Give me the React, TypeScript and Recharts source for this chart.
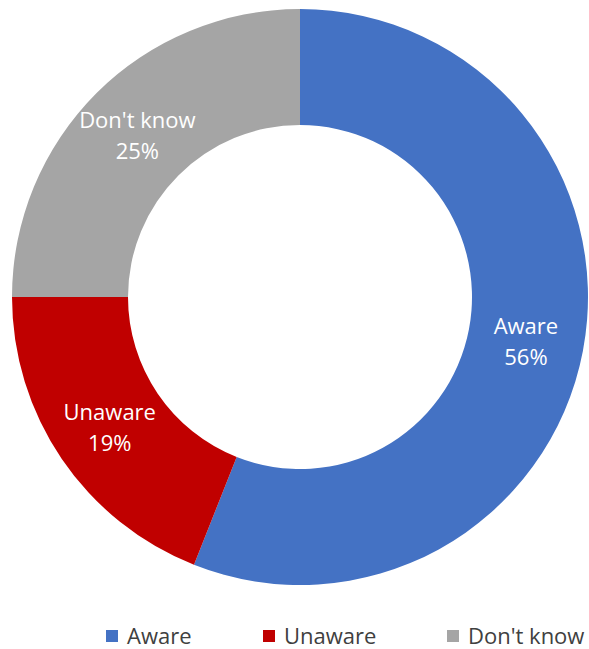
import React from "react";
import { PieChart, Pie, Cell, Legend } from "recharts";

const categories = ["Aware", "Unaware", "Don't know"];
const values = [56, 19, 25];
const colors = ["#4472C4", "#C00000", "#A5A5A5"];

const data = categories.map((name, i) => ({ name, value: values[i] }));

const RAD = Math.PI / 180;
const FONT = "'Open Sans', 'Noto Sans', sans-serif";

const renderLabel = (props: any) => {
  const { cx, cy, midAngle, innerRadius, outerRadius, name, percent } = props;
  const r = (innerRadius + outerRadius) / 2;
  const x = cx + r * Math.cos(-midAngle * RAD);
  const y = cy + r * Math.sin(-midAngle * RAD);
  return (
    <text
      x={x}
      y={y}
      fill="#ffffff"
      textAnchor="middle"
      style={{ fontSize: 22, fontFamily: FONT }}
    >
      <tspan x={x} dy={-6}>{name}</tspan>
      <tspan x={x} dy={31}>{`${Math.round(percent * 100)}%`}</tspan>
    </text>
  );
};

const legendX = [106, 263, 447];

const renderLegend = () => (
  <svg width={589} height={26} style={{ display: "block", overflow: "visible" }}>
    {categories.map((c, i) => (
      <g key={c}>
        <rect x={legendX[i]} y={7} width={12} height={12} fill={colors[i]} />
        <text
          x={legendX[i] + 21}
          y={21}
          fill="#404040"
          style={{ fontSize: 22, fontFamily: FONT }}
        >
          {c}
        </text>
      </g>
    ))}
  </svg>
);

export default function App() {
  return (
    <div style={{ position: "absolute", left: 0, top: 0, width: 589, height: 649, background: "#fff" }}>
      <PieChart width={589} height={649} margin={{ top: 0, right: 0, bottom: 0, left: 0 }}>
        <Pie
          data={data}
          dataKey="value"
          nameKey="name"
          cx={300}
          cy={297}
          innerRadius={172}
          outerRadius={288}
          startAngle={90}
          endAngle={-270}
          stroke="none"
          labelLine={false}
          label={renderLabel}
          isAnimationActive={false}
        >
          {data.map((d, i) => (
            <Cell key={d.name} fill={colors[i]} />
          ))}
        </Pie>
        <Legend
          content={renderLegend}
          wrapperStyle={{ position: "absolute", left: 0, top: 623, width: 589 }}
        />
      </PieChart>
    </div>
  );
}
